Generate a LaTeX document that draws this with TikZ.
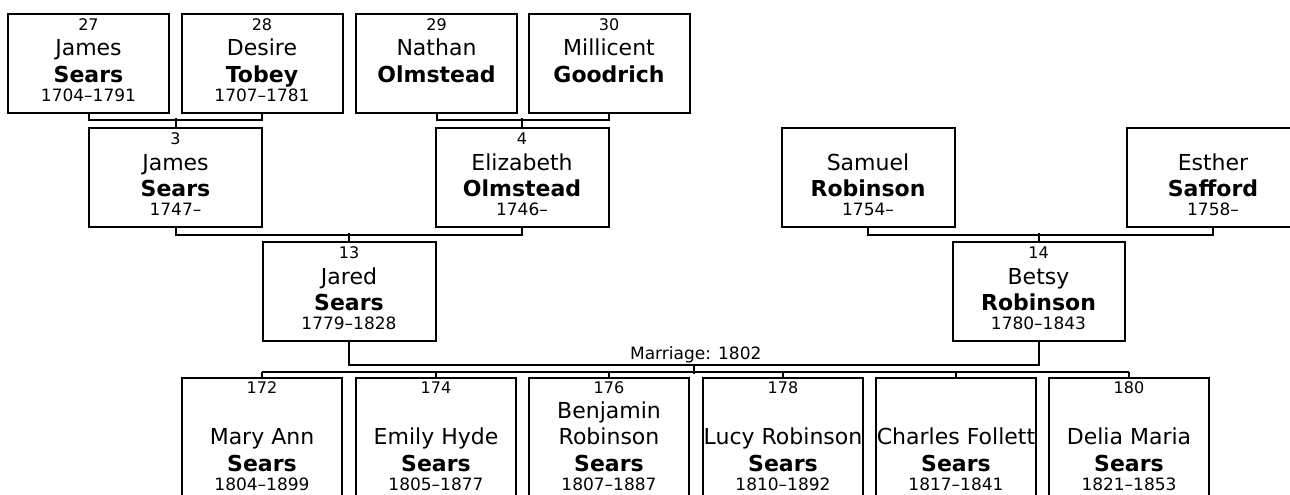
\documentclass[tikz,border=0pt]{standalone}
\usepackage{fontspec}
\setmainfont{DejaVu Sans}
\usetikzlibrary{calc}

\tikzset{
	personbox/.style={draw, line width=2pt, inner sep=0pt, anchor=north, minimum height=99pt},
	numtext/.style={anchor=base, inner sep=0pt, font=\fontsize{16}{19}\selectfont},
	giventext/.style={anchor=base, inner sep=0pt, font=\fontsize{22}{26}\selectfont},
	surtext/.style={anchor=base, inner sep=0pt, font=\fontsize{22}{26}\selectfont\bfseries},
	yeartext/.style={anchor=base, inner sep=0pt, font=\fontsize{17}{20}\selectfont},
	link/.style={line width=2pt},
}

% box name, centre x, top y, width, number, given name, surname, years
\newcommand{\ancestor}[8]{%
	\node[personbox, minimum width=#4] (#1) at (#2,#3) {};
	\node[numtext] (#1-num) at ([yshift=-17.5pt]#1.north) {#5};
	\node[giventext] (#1-given) at ([yshift=-43pt]#1.north) {#6};
	\node[surtext] (#1-sur) at ([yshift=-69pt]#1.north) {#7};
	\node[yeartext] (#1-years) at ([yshift=-88pt]#1.north) {#8};
}

\begin{document}
\begin{tikzpicture}[x=1pt, y=-1pt]
	\useasboundingbox (0,0) rectangle (1290,495);

	% great-grandparents
	\foreach \bx/\cx/\num/\given/\sur/\years in {p27/88.5/27/James/Sears/1704--1791, p28/262/28/Desire/Tobey/1707--1781, p29/436.5/29/Nathan/Olmstead/, p30/609/30/Millicent/Goodrich/} {
		\ancestor{\bx}{\cx}{13}{161pt}{\num}{\given}{\sur}{\years}
	}

	% grandparents
	\foreach \bx/\cx/\num/\given/\sur/\years in {p3/175.5/3/James/Sears/1747--, p4/522/4/Elizabeth/Olmstead/1746--, p33/868//Samuel/Robinson/1754--, p34/1213//Esther/Safford/1758--} {
		\ancestor{\bx}{\cx}{127}{173pt}{\num}{\given}{\sur}{\years}
	}

	% parents
	\ancestor{p13}{349}{241}{173pt}{13}{Jared}{Sears}{1779--1828}
	\ancestor{p14}{1038.5}{241}{172pt}{14}{Betsy}{Robinson}{1780--1843}

	% couples
	\draw[link] (p27.south) -- ++(0,6) -| (p28.south);
	\draw[link] (p3.north) -- ++(0,-9);
	\draw[link] (p29.south) -- ++(0,6) -| (p30.south);
	\draw[link] (p4.north) -- ++(0,-9);
	\draw[link] (p3.south) -- ++(0,7) -| (p4.south);
	\draw[link] (p13.north) -- ++(0,-8);
	\draw[link] (p33.south) -- ++(0,7) -| (p34.south);
	\draw[link] (p14.north) -- ++(0,-8);

	% marriage
	\draw[link] (p13.south) -- ++(0,23) -| (p14.south);
	\coordinate (wed) at ($(p13.south)!0.5!(p14.south)+(0,23)$);
	\node[yeartext] (wedding) at ($(wed)+(2,-6)$) {Marriage: 1802};

	% children
	\foreach \cx/\num/\first/\given/\years [count=\i] in {262/172//Mary Ann/1804--1899, 436/174//Emily Hyde/1805--1877, 609/176/Benjamin/Robinson/1807--1887, 783/178//Lucy Robinson/1810--1892, 956///Charles Follett/1817--1841, 1129/180//Delia Maria/1821--1853} {
		\node[personbox, minimum width=160pt, minimum height=160pt] (c\i) at (\cx,377) {};
		\node[numtext] (c\i-num) at ([yshift=-16.5pt]c\i.north) {\num};
		\node[giventext] (c\i-first) at ([yshift=-41pt]c\i.north) {\first};
		\node[giventext] (c\i-given) at ([yshift=-67pt]c\i.north) {\given};
		\node[surtext] (c\i-sur) at ([yshift=-94pt]c\i.north) {Sears};
		\node[yeartext] (c\i-years) at ([yshift=-113.5pt]c\i.north) {\years};
		\draw[link] (c\i.north) -- ++(0,-5);
	}
	\draw[link] ([yshift=5pt]c1.north) -- ([yshift=5pt]c6.north);
	\draw[link] (wed) -- ++(0,9);
\end{tikzpicture}
\end{document}
